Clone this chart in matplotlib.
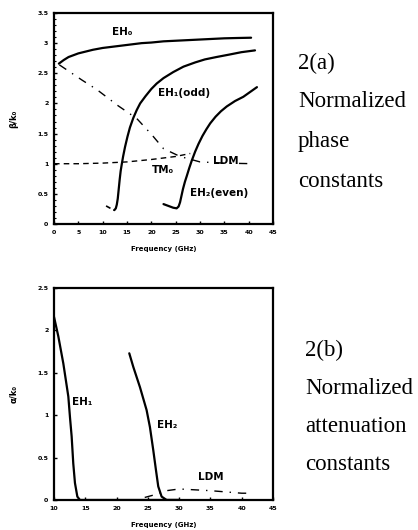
import matplotlib
matplotlib.use("Agg")
import matplotlib.pyplot as plt
from matplotlib.ticker import MultipleLocator

# ---- data: (a) normalized phase constants ----
eh0_x = [1.0, 2.0, 3.0, 4.0, 5.0, 6.5, 8.0, 10.0, 12.0, 14.0, 16.0, 18.0, 20.0,
         22.5, 25.0, 27.5, 30.0, 32.5, 35.0, 37.5, 40.5]
eh0_y = [2.66, 2.72, 2.77, 2.80, 2.83, 2.86, 2.89, 2.92, 2.94, 2.96, 2.98, 3.00, 3.01,
         3.03, 3.04, 3.05, 3.06, 3.07, 3.08, 3.085, 3.09]

eh1_pre_x = [10.7, 11.6, 12.4]
eh1_pre_y = [0.30, 0.26, 0.23]
eh1_x = [12.4, 12.7, 12.9, 13.1, 13.3, 13.5, 13.7, 13.9, 14.2, 14.6, 15.1, 15.6, 16.3,
         17.0, 17.7, 18.8, 20.0, 21.1, 22.5, 24.5, 26.6, 29.0, 31.0, 33.4, 36.0, 38.5, 41.3]
eh1_y = [0.23, 0.26, 0.32, 0.42, 0.58, 0.74, 0.88, 0.98, 1.12, 1.28, 1.45, 1.60, 1.76,
         1.89, 2.00, 2.12, 2.24, 2.33, 2.42, 2.52, 2.61, 2.68, 2.73, 2.77, 2.81, 2.85, 2.88]

eh2_x = [22.5, 23.5, 24.5, 25.2, 25.6, 25.9, 26.2, 26.5, 26.9, 27.3, 27.8, 28.3, 29.0,
         29.7, 30.5, 31.3, 32.1, 33.2, 34.3, 35.5, 37.2, 38.9, 40.3, 41.7]
eh2_y = [0.33, 0.30, 0.27, 0.26, 0.29, 0.36, 0.47, 0.58, 0.70, 0.80, 0.93, 1.05, 1.20,
         1.33, 1.46, 1.57, 1.67, 1.78, 1.87, 1.95, 2.04, 2.11, 2.19, 2.27]

tm0_x = [0.0, 5.0, 10.0, 15.0, 20.0, 25.0, 28.0]
tm0_y = [1.00, 1.00, 1.01, 1.03, 1.07, 1.12, 1.17]

ldm_a_x = [1.1, 5.7, 8.8, 13.2, 17.0, 20.1, 22.5, 25.9, 30.0, 35.0, 41.0]
ldm_a_y = [2.64, 2.39, 2.23, 1.96, 1.75, 1.48, 1.25, 1.12, 1.03, 1.01, 1.00]

# ---- data: (b) normalized attenuation constants ----
att_eh1_x = [10.0, 10.69, 11.49, 12.29, 12.56, 12.82, 13.08, 13.35, 13.73, 14.15, 20.0, 25.0, 30.0]
att_eh1_y = [2.16, 1.93, 1.61, 1.22, 0.97, 0.75, 0.43, 0.20, 0.04, 0.0, 0.0, 0.0, 0.0]

att_eh2_x = [22.03, 22.67, 23.74, 24.8, 25.33, 25.86, 26.3, 26.66, 27.2, 28.0, 30.0]
att_eh2_y = [1.73, 1.57, 1.33, 1.06, 0.86, 0.59, 0.35, 0.16, 0.04, 0.0, 0.0]

att_ldm_x = [24.5, 26.0, 28.0, 30.0, 35.0, 40.0, 41.5]
att_ldm_y = [0.03, 0.06, 0.11, 0.13, 0.11, 0.08, 0.08]

xticks_a = [0, 5, 10, 15, 20, 25, 30, 35, 40, 45]
yticks_a = [0, 0.5, 1, 1.5, 2, 2.5, 3, 3.5]
ytick_labels_a = ["0", "0.5", "1", "1.5", "2", "2.5", "3", "3.5"]
xticks_b = [10, 15, 20, 25, 30, 35, 40, 45]
yticks_b = [0, 0.5, 1, 1.5, 2, 2.5]
ytick_labels_b = ["0", "0.5", "1", "1.5", "2", "2.5"]

W, H = 418, 530
fig = plt.figure(figsize=(W / 100, H / 100), dpi=100)

def style(ax):
    for s in ax.spines.values():
        s.set_linewidth(1.6)
    ax.tick_params(direction="in", length=2.5, width=1.0, labelsize=4.5, pad=4)
    ax.tick_params(which="minor", direction="in", length=1.5, width=0.8)
    for lab in ax.get_xticklabels() + ax.get_yticklabels():
        lab.set_fontweight("bold")

lab_kw = dict(fontsize=7.5, fontweight="bold", family="DejaVu Sans")
line_kw = dict(color="black", lw=1.6, solid_joinstyle="round", solid_capstyle="round")

# --- (a) ---
ax1 = fig.add_axes([54 / W, 1 - 224 / H, 219 / W, 211 / H])
ax1.plot(eh0_x, eh0_y, **line_kw)
ax1.plot(eh1_pre_x, eh1_pre_y, color="black", lw=1.2, ls=(0, (3, 2)))
ax1.plot(eh1_x, eh1_y, **line_kw)
ax1.plot(eh2_x, eh2_y, **line_kw)
ax1.plot(tm0_x, tm0_y, color="black", lw=1.0, ls=(0, (4, 3)))
ax1.plot(ldm_a_x, ldm_a_y, color="black", lw=1.0, ls=(0, (6, 5, 1, 5)))
ax1.set_xlim(0, 45)
ax1.set_ylim(0, 3.5)
ax1.set_xticks(xticks_a)
ax1.set_yticks(yticks_a)
ax1.set_yticklabels(ytick_labels_a)
ax1.yaxis.set_minor_locator(MultipleLocator(0.1))
style(ax1)
ax1.set_xlabel("Frequency (GHz)", fontsize=5, fontweight="bold", labelpad=8)
ax1.set_ylabel("β/k₀", fontsize=6, fontweight="bold", labelpad=14)
ax1.text(11.9, 3.13, "EH₀", **lab_kw)
ax1.text(21.4, 2.17, "EH₁(odd)", va="center", **lab_kw)
ax1.text(20.1, 0.90, "TM₀", va="center", **lab_kw)
ax1.text(32.7, 1.05, "LDM", va="center", **lab_kw)
ax1.text(27.9, 0.52, "EH₂(even)", va="center", **lab_kw)

# --- (b) ---
ax2 = fig.add_axes([54 / W, 1 - 500 / H, 219 / W, 212 / H])
ax2.plot(att_eh1_x, att_eh1_y, **line_kw)
ax2.plot(att_eh2_x, att_eh2_y, **line_kw)
ax2.plot(att_ldm_x, att_ldm_y, color="black", lw=1.0, ls=(0, (6, 5, 1, 5)))
ax2.set_xlim(10, 45)
ax2.set_ylim(0, 2.5)
ax2.set_xticks(xticks_b)
ax2.set_yticks(yticks_b)
ax2.set_yticklabels(ytick_labels_b)
style(ax2)
ax2.set_xlabel("Frequency (GHz)", fontsize=5, fontweight="bold", labelpad=8)
ax2.set_ylabel("α/k₀", fontsize=6, fontweight="bold", labelpad=14)
ax2.text(12.9, 1.15, "EH₁", va="center", **lab_kw)
ax2.text(26.4, 0.88, "EH₂", va="center", **lab_kw)
ax2.text(33.0, 0.27, "LDM", va="center", **lab_kw)

# --- side captions ---
cap_kw = dict(fontsize=16.5, family="Liberation Serif", va="center", ha="left")
for txt, y in [("2(a)", 63), ("Normalized", 101), ("phase", 141), ("constants", 182)]:
    fig.text(298 / W, 1 - y / H, txt, **cap_kw)
for txt, y in [("2(b)", 350), ("Normalized", 388), ("attenuation", 426), ("constants", 464)]:
    fig.text(305 / W, 1 - y / H, txt, **cap_kw)

fig.savefig("out.png", dpi=100)
